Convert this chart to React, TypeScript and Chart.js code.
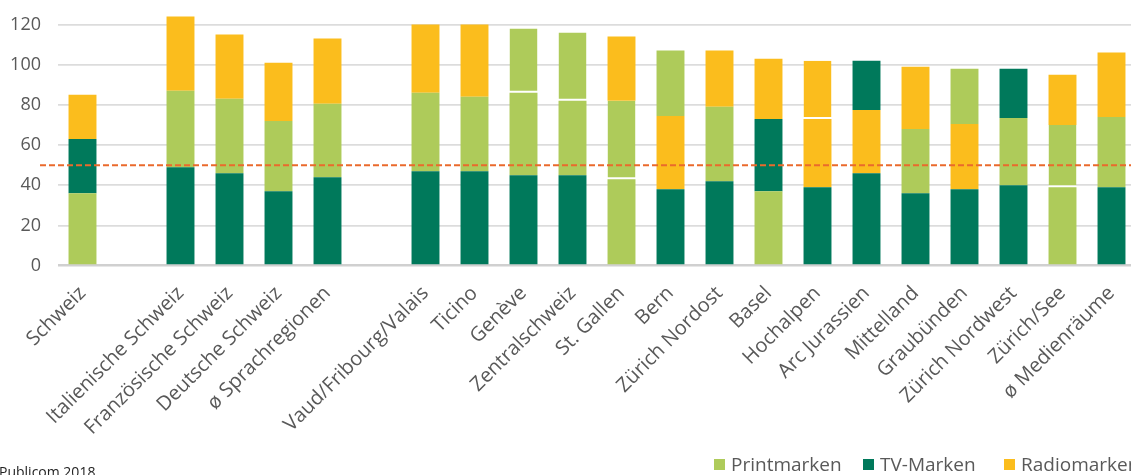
import React, { useEffect, useRef } from "react";
import { Chart, registerables } from "chart.js";

Chart.register(...registerables);

const categories = [
  "Schweiz", "", "Italienische Schweiz", "Französische Schweiz", "Deutsche Schweiz", "ø Sprachregionen", "",
  "Vaud/Fribourg/Valais", "Ticino", "Genève", "Zentralschweiz", "St. Gallen", "Bern", "Zürich Nordost", "Basel",
  "Hochalpen", "Arc Jurassien", "Mittelland", "Graubünden", "Zürich Nordwest", "Zürich/See", "ø Medienräume",
];

// segment type per stack layer: P = Printmarken, T = TV-Marken, R = Radiomarken
const layer1Type = ["P", "", "T", "T", "T", "T", "", "T", "T", "T", "T", "P", "T", "T", "P", "T", "T", "T", "T", "T", "P", "T"];
const layer1Values = [36, null, 49, 46, 37, 44, null, 47, 47, 45, 45, 43, 38, 42, 37, 39, 46, 36, 38, 40, 39, 39];

const layer2Type = ["T", "", "P", "P", "P", "P", "", "P", "P", "P", "P", "P", "R", "P", "T", "R", "R", "P", "R", "P", "P", "P"];
const layer2Values = [27, null, 38, 37, 35, 36.5, null, 39, 37, 41, 37, 39, 36.5, 37, 36, 34, 31.5, 32, 32.5, 33.5, 31, 35];

const layer3Type = ["R", "", "R", "R", "R", "R", "", "R", "R", "P", "P", "R", "P", "R", "R", "R", "T", "R", "P", "T", "R", "R"];
const layer3Values = [22, null, 37, 32, 29, 32.5, null, 34, 36, 32, 34, 32, 32.5, 28, 30, 29, 24.5, 31, 27.5, 24.5, 25, 32];

const yTicks = [0, 20, 40, 60, 80, 100, 120];
const referenceValue = 50;

const legendLabels = ["Printmarken", "TV-Marken", "Radiomarken"];
const COLORS: Record<string, string> = { P: "#AECB5A", T: "#00795B", R: "#FBBD1D" };
const legendColors = [COLORS.P, COLORS.T, COLORS.R];

const FONT = "'Open Sans', 'DejaVu Sans', sans-serif";
const TEXT = "#595959";

function makeLayer(values: (number | null)[], types: string[], below: string[] | null) {
  return {
    data: values,
    backgroundColor: types.map((t) => COLORS[t] || "transparent"),
    borderColor: "#FFFFFF",
    borderWidth: types.map((t, i) =>
      below && t && below[i] === t ? { top: 0, left: 0, right: 0, bottom: 2 } : 0
    ),
    borderSkipped: false as const,
    barPercentage: 0.57,
    categoryPercentage: 1,
  };
}

const refLinePlugin = {
  id: "refLine",
  afterDatasetsDraw(chart: any) {
    const { ctx, chartArea, scales } = chart;
    const y = scales.y.getPixelForValue(referenceValue);
    ctx.save();
    ctx.strokeStyle = "#EA6A2C";
    ctx.lineWidth = 2;
    ctx.setLineDash([6, 3]);
    ctx.beginPath();
    ctx.moveTo(40, y);
    ctx.lineTo(chartArea.right, y);
    ctx.stroke();
    ctx.restore();
  },
};

export default function App() {
  const ref = useRef<HTMLCanvasElement>(null);

  useEffect(() => {
    document.body.style.margin = "0";
    const chart = new Chart(ref.current!, {
      type: "bar",
      data: {
        labels: categories,
        datasets: [
          makeLayer(layer1Values, layer1Type, null),
          makeLayer(layer2Values, layer2Type, layer1Type),
          makeLayer(layer3Values, layer3Type, layer2Type),
        ] as any,
      },
      options: {
        responsive: false,
        animation: false,
        layout: { padding: { left: 0, right: 4, top: 4.4, bottom: 0 } },
        plugins: { legend: { display: false }, tooltip: { enabled: false } },
        scales: {
          x: {
            stacked: true,
            grid: { display: false },
            border: { display: false },
            ticks: {
              color: TEXT,
              font: { family: FONT, size: 20 },
              minRotation: 45,
              maxRotation: 45,
              autoSkip: false,
              padding: 8,
            },
            afterFit(scale: any) {
              scale.height = 209.4;
            },
          },
          y: {
            stacked: true,
            min: 0,
            max: 130,
            border: { display: false },
            grid: {
              drawTicks: false,
              color: (c: any) => (c.tick && c.tick.value === 0 ? "#D0D0D0" : "#DCDCDC"),
              lineWidth: (c: any) => (c.tick && c.tick.value === 0 ? 2.5 : 1.8),
            },
            ticks: {
              stepSize: 20,
              padding: 17,
              color: TEXT,
              font: { family: FONT, size: 18 },
            },
            afterBuildTicks(scale: any) {
              scale.ticks = yTicks.map((v) => ({ value: v }));
            },
            afterFit(scale: any) {
              scale.width = 58;
              scale.paddingTop = 0;
              scale.paddingBottom = 0;
            },
          },
        },
      },
      plugins: [refLinePlugin],
    });
    return () => chart.destroy();
  }, []);

  return (
    <div style={{ position: "fixed", left: 0, top: 0, width: 1131, height: 475, overflow: "hidden", background: "#fff" }}>
      <canvas ref={ref} width={1140} height={475} style={{ position: "absolute", left: 0, top: 0 }} />
      <div
        style={{
          position: "absolute",
          left: -1,
          top: 464.6,
          fontFamily: FONT,
          fontSize: 14,
          lineHeight: "14px",
          color: "#222",
          whiteSpace: "nowrap",
        }}
      >
        Publicom 2018
      </div>
      {legendLabels.map((label, i) => (
        <div
          key={label}
          style={{
            position: "absolute",
            left: [714, 863, 1004][i],
            top: 451,
            height: 26,
            display: "flex",
            alignItems: "center",
            fontFamily: FONT,
            fontSize: 19,
            color: TEXT,
            whiteSpace: "nowrap",
          }}
        >
          <span style={{ display: "inline-block", width: 11, height: 11, background: legendColors[i], marginRight: 6 }} />
          {label}
        </div>
      ))}
    </div>
  );
}
